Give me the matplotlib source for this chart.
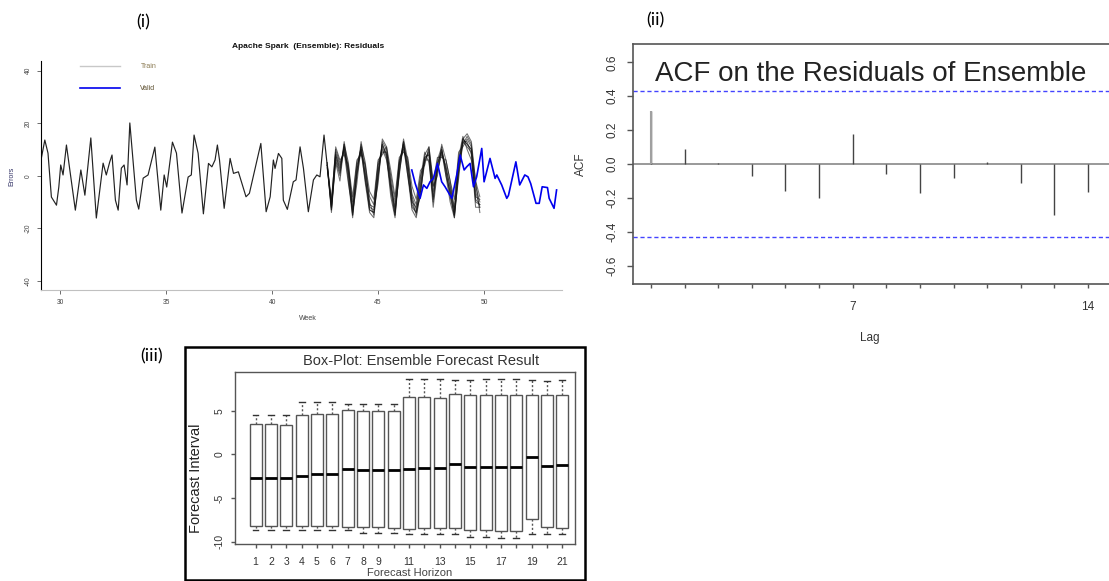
import matplotlib
matplotlib.use('Agg')
import matplotlib.pyplot as plt
import numpy as np
from matplotlib.lines import Line2D
from matplotlib.patches import Rectangle

plt.rcParams['font.family'] = ['Liberation Sans', 'DejaVu Sans']
plt.rcParams['axes.unicode_minus'] = False

W, H = 1109, 581

# (i) residuals of the ensemble, x in weeks
train_weeks = [29.10, 29.28, 29.43, 29.59, 29.83, 29.94, 30.03, 30.14, 30.30, 30.46,
               30.72, 30.98, 31.17, 31.45, 31.71, 32.03, 32.18, 32.34, 32.45, 32.61,
               32.74, 32.89, 33.02, 33.16, 33.29, 33.60, 33.71, 33.92, 34.15, 34.47,
               34.75, 34.91, 35.03, 35.30, 35.49, 35.75, 36.04, 36.19, 36.32, 36.51,
               36.76, 37.00, 37.16, 37.31, 37.42, 37.52, 37.74, 38.02, 38.18, 38.41,
               38.77, 38.93, 39.47, 39.72, 39.91, 40.06, 40.14, 40.30, 40.46, 40.53,
               40.72, 41.00, 41.13, 41.32, 41.48, 41.71, 41.95, 42.11, 42.26, 42.45,
               42.60]
train_errors = [6.0, 13.6, 8.6, -8.1, -11.2, -4.3, 4.1, 0.3, 11.7, 2.2,
                -13.1, 2.2, -7.4, 14.4, -16.1, 4.8, 0.3, 5.2, 7.9, -9.3,
                -13.1, 2.9, 4.1, -3.5, 20.1, -9.3, -12.7, -0.9, 0.3, 10.9,
                -13.1, 0.3, -4.3, 12.8, 8.6, -14.2, -0.5, 0.3, 15.5, 8.6,
                -14.5, 4.7, 3.4, 6.0, 11.7, 6.0, -12.4, 6.6, 0.9, 1.5,
                -8.0, -6.7, 12.3, -13.7, -8.0, 6.0, 2.8, 8.5, 6.6, -9.3,
                -12.8, -2.3, -1.6, 11.0, 2.8, -13.7, -1.6, 0.3, -0.4, 15.5,
                4.0]

ens_weeks = np.round(np.arange(42.6, 49.81, 0.2), 1)
ensemble_members = [
    [4, -13, 8, 2, 12, 0, -15, 2, 11, 0, -13, -14, 2, 12, 8, -6, -15, 4, 13, 2,
     -12, -14, -4, 7, 8, -10, 4, 10, 2, -8, -15, 4, 14, 12, 10, -10, -11],
    [3, -10, 10, 5, 9, -3, -13, 4, 9, -2, -11, -12, 5, 10, 6, -4, -12, 6, 11, 0,
     -10, -12, -1, 9, 5, -8, 6, 11, 0, -6, -13, 7, 15, 10, 6, -8, -9],
    [5, -12, 6, 0, 13, 3, -12, 0, 13, 3, -10, -15, -1, 13, 10, -3, -14, 1, 12, 5,
     -9, -15, -6, 5, 10, -6, 2, 8, 4, -5, -16, 1, 12, 15, 12, -6, -12],
    [4, -9, 9, 4, 10, 2, -10, 5, 10, 1, -8, -11, 4, 9, 9, 0, -10, 5, 10, 4,
     -7, -11, 0, 6, 9, -4, 5, 9, 3, -4, -12, 6, 13, 11, 9, -4, -10],
    [4, -14, 7, 1, 11, -2, -16, 0, 10, -3, -14, -16, 0, 11, 7, -8, -16, 2, 12, 0,
     -13, -16, -6, 6, 6, -12, 2, 9, 0, -10, -16, 2, 13, 13, 8, -12, -12],
    [4, -11, 11, 6, 8, 4, -8, 6, 8, 4, -6, -9, 6, 8, 11, 2, -8, 7, 9, 7,
     -4, -9, 2, 4, 11, -2, 7, 7, 6, -2, -9, 9, 11, 14, 11, -2, -8],
    [5, -13, 5, -2, 12, 5, -14, -3, 12, 5, -12, -13, -3, 14, 11, -2, -13, 0, 14, 6,
     -8, -13, -8, 8, 11, -4, 0, 12, 6, -2, -14, -1, 14, 16, 13, -2, -14],
    [3, -12, 8, 3, 11, 1, -15, 2, 11, -1, -13, -14, 1, 12, 8, -5, -15, 4, 13, 2,
     -11, -14, -3, 7, 8, -9, 4, 10, 2, -7, -15, 4, 14, 12, 10, -9, -11],
]

valid_weeks = [46.59, 46.75, 46.98, 47.14, 47.30, 47.45, 47.61, 47.80, 48.00, 48.16,
               48.48, 48.71, 48.87, 49.06, 49.18, 49.34, 49.50, 49.65, 49.89, 50.00,
               50.28, 50.52, 50.60, 50.83, 51.07, 51.15, 51.50, 51.68, 51.92, 52.07,
               52.20, 52.45, 52.60, 52.74, 52.99, 53.07, 53.30, 53.42]
valid_errors = [2.2, -2.9, -8.6, -3.5, -4.8, -2.3, -1.0, 4.7, -2.3, -4.2,
                -8.6, 0.3, 7.9, 2.2, 3.4, 4.7, -4.2, -0.4, 10.4, -2.3,
                6.6, -1.0, 0.3, -3.5, -8.6, -7.5, 5.3, -3.5, 0.3, -0.4,
                -3.0, -10.5, -10.5, -4.2, -4.5, -8.6, -12.4, -5.4]

# (ii) ACF of the residuals
acf_lags = list(range(1, 15))
acf_values = [0.313, 0.087, 0.008, -0.069, -0.160, -0.203, 0.177,
              -0.059, -0.173, -0.081, 0.014, -0.114, -0.301, -0.164]
acf_bound = 0.429

# (iii) box-plot per forecast horizon
horizons = list(range(1, 22))
box_whislo = [-8.68, -8.68, -8.68, -8.68, -8.68, -8.68, -8.68, -9.06, -9.06, -9.06, -9.14,
              -9.14, -9.14, -9.14, -9.52, -9.45, -9.55, -9.55, -9.17, -9.14, -9.10]
box_q1 = [-8.22, -8.22, -8.22, -8.22, -8.20, -8.20, -8.30, -8.37, -8.37, -8.40, -8.52,
          -8.45, -8.45, -8.45, -8.72, -8.72, -8.80, -8.80, -7.45, -8.37, -8.40]
box_med = [-2.68, -2.70, -2.75, -2.45, -2.22, -2.22, -1.72, -1.80, -1.75, -1.80, -1.64,
           -1.57, -1.57, -1.07, -1.41, -1.45, -1.43, -1.41, -0.34, -1.30, -1.25]
box_q3 = [3.44, 3.44, 3.40, 4.47, 4.66, 4.59, 5.08, 4.97, 4.97, 4.97, 6.54,
          6.54, 6.50, 6.96, 6.80, 6.80, 6.80, 6.80, 6.80, 6.80, 6.80]
box_whishi = [4.50, 4.50, 4.50, 6.04, 5.96, 5.96, 5.80, 5.80, 5.80, 5.80, 8.64,
              8.64, 8.60, 8.49, 8.56, 8.60, 8.60, 8.60, 8.49, 8.44, 8.50]


def px_rect(left, top, right, bottom):
    return [left / W, 1 - bottom / H, (right - left) / W, (bottom - top) / H]


def fig_xy(x, y):
    return x / W, 1 - y / H


fig = plt.figure(figsize=(W / 100, H / 100), dpi=100)

# ---------- (i) residuals ----------
ax1 = fig.add_axes(px_rect(41, 61.5, 562, 290))
for member in ensemble_members:
    ax1.plot(ens_weeks, member, color='#111111', linewidth=0.75, alpha=0.6)
ax1.plot(train_weeks, train_errors, color='#222222', linewidth=0.85)
ax1.plot(valid_weeks, valid_errors, color='#0000ee', linewidth=1.2)

ax1.set_xlim(29.1, 29.1 + (562 - 41) / 21.2)
ax1.set_ylim(-43.5, 43.5)
ax1.set_xticks([30, 35, 40, 45, 50])
ax1.set_yticks([-40, -20, 0, 20, 40])
ax1.spines['top'].set_visible(False)
ax1.spines['right'].set_visible(False)
ax1.spines['left'].set_color('black')
ax1.spines['bottom'].set_color('#c0c0c0')
ax1.tick_params(axis='both', labelsize=4.8, labelcolor='#444444', length=2.9,
                width=0.6, color='#555555')
ax1.tick_params(axis='x', pad=3.3)
ax1.tick_params(axis='y', pad=3.6)
plt.setp(ax1.get_yticklabels(), rotation=90, va='center')

handles = [Line2D([], [], color='#c8c8c8', linewidth=1.0),
           Line2D([], [], color='#0000ee', linewidth=1.2)]
leg = ax1.legend(handles, ['Train', 'Valid'], frameon=False, fontsize=5,
                 loc='upper left', bbox_to_anchor=fig_xy(80, 63),
                 bbox_transform=fig.transFigure, borderpad=0, borderaxespad=0,
                 handlelength=5.8, handletextpad=2.9, labelspacing=2.2)
for txt, col in zip(leg.get_texts(), ['#8a7a52', '#5e5030']):
    txt.set_color(col)

fig.text(*fig_xy(308, 46), 'Apache Spark  (Ensemble): Residuals', ha='center',
         va='center', fontsize=6, fontweight='bold', color='#111111')
fig.text(*fig_xy(12, 176), 'Errors', ha='center', va='center', rotation=90,
         fontsize=5, color='#333366')
fig.text(*fig_xy(308, 319), 'Week', ha='center', va='center', fontsize=5,
         color='#444444')

# ---------- (ii) ACF ----------
ax2 = fig.add_axes(px_rect(633.3, 44, 1173, 284))
ax2.axhline(0, color='#888888', linewidth=1.2)
ax2.vlines(acf_lags, 0, acf_values, color='#444444', linewidth=1.0)
ax2.vlines(acf_lags[:1], 0, acf_values[:1], color='#a0a0a0', linewidth=1.5)
ax2.axhline(acf_bound, color='#4444ff', linewidth=1.0, linestyle=(0, (3, 2)))
ax2.axhline(-acf_bound, color='#4444ff', linewidth=1.0, linestyle=(0, (3, 2)))
ax2.set_xlim(0.474, 16.53)
ax2.set_ylim(-0.708, 0.708)
ax2.set_yticks([-0.6, -0.4, -0.2, 0.0, 0.2, 0.4, 0.6])
ax2.set_yticklabels(['-0.6', '-0.4', '-0.2', '0.0', '0.2', '0.4', '0.6'])
lag_ticks = list(range(1, 17))
ax2.set_xticks(lag_ticks)
ax2.set_xticklabels([str(t) if t in (7, 14) else '' for t in lag_ticks])
for sp in ax2.spines.values():
    sp.set_color('#555555')
    sp.set_linewidth(1.2)
ax2.tick_params(axis='both', labelsize=8.5, labelcolor='#333333', color='#555555',
                width=1.0)
ax2.tick_params(axis='x', length=2.9, pad=9.4)
ax2.tick_params(axis='y', length=4.5, pad=5.8)
plt.setp(ax2.get_yticklabels(), rotation=90, va='center')
fig.text(*fig_xy(871, 74), 'ACF on the Residuals of Ensemble', ha='center',
         va='center', fontsize=20, color='#222222')
fig.text(*fig_xy(581, 164), 'ACF', ha='center', va='center', rotation=90,
         fontsize=8.5, color='#333333')
fig.text(*fig_xy(870, 338), 'Lag', ha='center', va='center', fontsize=8.5,
         color='#333333')

# ---------- (iii) box-plot ----------
ax3 = fig.add_axes(px_rect(235, 372.3, 575.3, 544.3))
stats = []
for lo, q1, med, q3, hi in zip(box_whislo, box_q1, box_med, box_q3, box_whishi):
    stats.append({'whislo': lo, 'q1': q1, 'med': med, 'q3': q3, 'whishi': hi,
                  'fliers': []})
ax3.bxp(stats, positions=horizons, widths=0.78, patch_artist=True,
        capwidths=0.38,
        boxprops={'facecolor': 'white', 'edgecolor': '#555555', 'linewidth': 1.0},
        medianprops={'color': 'black', 'linewidth': 2.0},
        whiskerprops={'color': '#555555', 'linewidth': 1.0,
                      'linestyle': (0, (1.5, 1.5))},
        capprops={'color': '#333333', 'linewidth': 1.0})
ax3.set_xlim(-0.34, 21.84)
ax3.set_ylim(-10.32, 9.40)
ax3.set_yticks([-10, -5, 0, 5])
ax3.set_xticks(horizons)
ax3.set_xticklabels([str(h) if (h <= 9 or h % 2 == 1) else '' for h in horizons])
for sp in ax3.spines.values():
    sp.set_color('#555555')
    sp.set_linewidth(1.0)
ax3.tick_params(axis='both', labelsize=7.5, labelcolor='#333333', color='#555555',
                width=1.0, length=2.9)
ax3.tick_params(axis='x', pad=6)
ax3.tick_params(axis='y', pad=4.3)
plt.setp(ax3.get_yticklabels(), rotation=90, va='center')
fig.text(*fig_xy(421, 361), 'Box-Plot: Ensemble Forecast Result', ha='center',
         va='center', fontsize=10.5, color='#333333')
fig.text(*fig_xy(196, 478), 'Forecast Interval', ha='center', va='center',
         rotation=90, fontsize=10.5, color='#222222')
fig.text(*fig_xy(410, 573), 'Forecast Horizon', ha='center', va='center',
         fontsize=8, color='#444444')

frame = Rectangle(fig_xy(185, 580), (585 - 185) / W, (580 - 347) / H,
                  transform=fig.transFigure, fill=False, edgecolor='black',
                  linewidth=1.8, clip_on=False)
fig.add_artist(frame)

# panel labels
for label, (x, y) in [('(i)', (143, 22)), ('(ii)', (655, 20)), ('(iii)', (152, 356))]:
    fig.text(*fig_xy(x, y), label, ha='center', va='center', fontsize=13,
             family=['Lato', 'DejaVu Sans'], color='black')

fig.savefig('out.png', dpi=100)
plt.close(fig)
